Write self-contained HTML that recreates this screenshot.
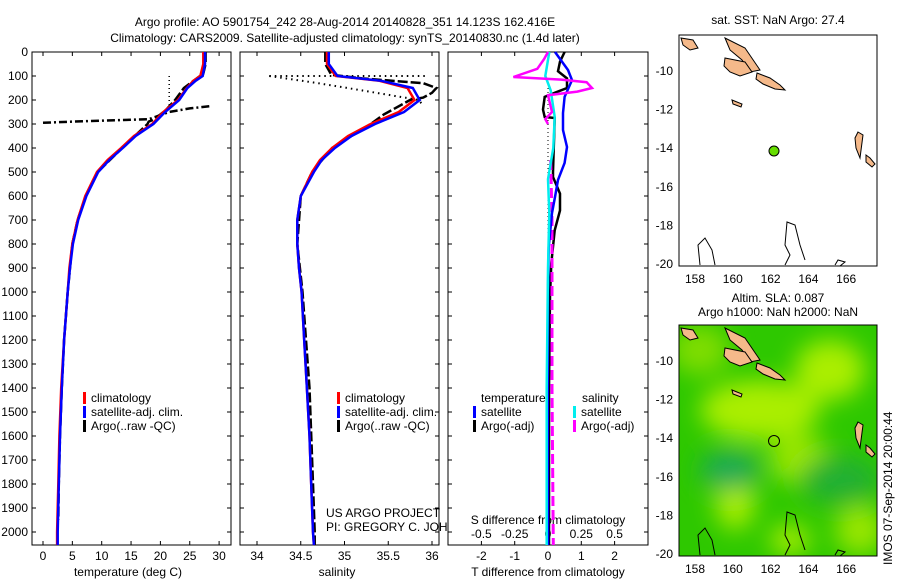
<!DOCTYPE html>
<html><head><meta charset="utf-8"><style>
body{margin:0;background:#fff;}
svg{display:block;font-family:"Liberation Sans",sans-serif;}
text{font-size:12px;fill:#000;}
</style></head><body>
<svg id="fig" width="900" height="580" viewBox="0 0 900 580">
<defs>
<filter id="blur" x="-50%" y="-50%" width="200%" height="200%"><feGaussianBlur stdDeviation="12"/></filter>
<clipPath id="clipMap2"><rect x="679" y="325" width="198" height="231"/></clipPath>
<clipPath id="clipMap1"><rect x="679" y="35" width="198" height="231"/></clipPath>
</defs>
<text x="345" y="26" text-anchor="middle">Argo profile: AO 5901754_242 28-Aug-2014 20140828_351 14.123S 162.416E</text>
<text x="345" y="42" text-anchor="middle">Climatology: CARS2009. Satellite-adjusted climatology: synTS_20140830.nc (1.4d later)</text>
<g id="plots"></g>
<g>
<text x="778" y="24" text-anchor="middle">sat. SST: NaN Argo: 27.4</text>
<rect x="679" y="35" width="198" height="231" fill="#fff" stroke="#000"/>
<g clip-path="url(#clipMap1)" id="map1land"></g>
<circle cx="774" cy="151" r="5" fill="#66dd00" stroke="#000"/>
</g>
<g>
<text x="778" y="302" text-anchor="middle">Altim. SLA: 0.087</text>
<text x="778" y="316" text-anchor="middle">Argo h1000: NaN h2000: NaN</text>
<g clip-path="url(#clipMap2)">
<rect x="679" y="325" width="198" height="231" fill="#2ec800"/>
<g filter="url(#blur)">
<ellipse cx="760" cy="410" rx="60" ry="30" fill="#aaee00"/>
<ellipse cx="830" cy="370" rx="35" ry="30" fill="#aaee00"/>
<ellipse cx="800" cy="460" rx="30" ry="25" fill="#99e600"/>
<ellipse cx="735" cy="500" rx="20" ry="30" fill="#aaee00"/>
<ellipse cx="730" cy="470" rx="30" ry="20" fill="#1faa55"/>
<ellipse cx="840" cy="480" rx="40" ry="25" fill="#22b033"/>
<ellipse cx="700" cy="350" rx="30" ry="25" fill="#7fdd00"/>
<ellipse cx="860" cy="530" rx="25" ry="25" fill="#99e600"/>
<ellipse cx="790" cy="540" rx="20" ry="15" fill="#aaee00"/>
</g>
<g id="map2land"></g>
</g>
<rect x="679" y="325" width="198" height="231" fill="none" stroke="#000"/>
<circle cx="774" cy="441" r="5.5" fill="none" stroke="#000"/>
</g>
<text transform="translate(892,565) rotate(-90)">IMOS 07-Sep-2014 20:00:44</text>
</svg>
<script>
const depthTicks=[0,100,200,300,400,500,600,700,800,900,1000,1100,1200,1300,1400,1500,1600,1700,1800,1900,2000];
const tempTicks=[0,5,10,15,20,25,30];
const climDepth=[0,50,100,120,150,200,250,300,350,400,450,500,600,700,800,900,1000,1200,1400,1600,1800,2000,2054];
const climTemp=[27.3,27.3,26.8,25.6,24.5,23.0,20.5,18.6,15.5,13.3,11.0,9.2,7.2,5.9,5.0,4.5,4.2,3.6,3.1,2.8,2.6,2.4,2.4];
const satTemp=[27.6,27.6,27.2,26.0,24.6,23.2,20.8,18.8,15.8,13.6,11.3,9.4,7.4,6.0,5.1,4.6,4.2,3.6,3.2,2.9,2.7,2.5,2.5];
const argoTempDepth=[0,50,90,150,200,240,280,290,300,400,500,600,700,800,1000,1200,1400,1600,1800,1950];
const argoTemp=[27.7,27.7,27.3,24.0,22.5,21.0,19.0,18.0,17.8,13.5,9.3,7.3,5.9,5.0,4.2,3.6,3.2,2.9,2.7,2.6];
const spikeDepth=[295,290,280,250,235,225];
const spikeTemp=[0,5,18,21.5,25,28.8];
const salTicks=[34,34.5,35,35.5,36];
const climSal=[34.80,34.80,34.90,35.40,35.72,35.80,35.62,35.30,35.04,34.86,34.72,34.63,34.50,34.46,34.46,34.48,34.51,34.54,34.57,34.60,34.62,34.64,34.65];
const satSal=[34.82,34.82,34.92,35.42,35.78,35.86,35.68,35.35,35.08,34.89,34.74,34.65,34.50,34.46,34.46,34.48,34.51,34.54,34.57,34.60,34.62,34.64,34.65];
const argoSalDepth=[0,50,95,110,130,150,170,190,200,260,300,400,500,600,800,1000,1400,1800,2000,2054];
const argoSal=[34.78,34.78,34.85,35.2,35.9,36.05,36.0,35.9,35.75,35.45,35.3,34.86,34.63,34.50,34.46,34.52,34.60,34.64,34.66,34.66];
const dotSalDepth=[100,130,160,200,225];
const dotSal=[34.14,34.7,35.2,35.85,35.9];
const dotSalHDepth=[100,100];
const dotSalH=[34.14,35.92];
const diffTTicks=[-2,-1,0,1,2];
const diffSTicks=[-0.5,-0.25,0,0.25,0.5];
const blueDepth=[0,75,117,187,254,325,396,462,533,604,671,812,1000,1400,2054];
const blueT=[0.21,0.6,0.72,0.5,0.45,0.45,0.57,0.5,0.3,0.21,0.12,0.02,0.0,-0.01,0.0];
const blackDepth=[0,40,80,110,150,170,187,240,271,275,500,521,590,660,743,880,1017,1400,2054];
const blackT=[0.5,0.36,0.3,0.57,0.57,0.2,-0.1,-0.15,-0.1,0.2,0.15,0.15,0.36,0.36,0.2,0.1,0.06,0.03,0.03];
const cyanDepth=[0,100,160,270,400,530,670,900,1400,2054];
const cyanS=[0.01,-0.02,0.02,0.05,0.04,0.0,0.01,0.0,-0.01,-0.01];
const magDepth=[0,30,70,104,115,126,150,165,180,250,280,300];
const magS=[0.0,-0.03,-0.08,-0.26,0.1,0.29,0.33,0.22,0.0,0.03,-0.02,0.0];
const magDashDepth=[450,700,1000,1400,2054];
const magDashS=[0.02,0.03,0.03,0.03,0.04];

const NS='http://www.w3.org/2000/svg';
const root=document.getElementById('plots');
function mk(tag,attrs,parent){const e=document.createElementNS(NS,tag);for(const k in attrs)e.setAttribute(k,attrs[k]);(parent||root).appendChild(e);return e;}
const Y0=52,YS=0.24,YB=545;
const yD=d=>Y0+d*YS;
function pathD(xs,ds,fx){return xs.map((v,i)=>(i?'L':'M')+fx(v).toFixed(1)+','+yD(ds[i]).toFixed(1)).join('');}
function panel(x0,x1,name){
  const g=mk('g',{});
  
  
  mk('rect',{x:x0,y:Y0,width:x1-x0,height:YB-Y0,fill:'#fff',stroke:'#000'},g);
  depthTicks.forEach(d=>{mk('line',{x1:x0,x2:x0+4,y1:yD(d),y2:yD(d),stroke:'#000'},g);mk('line',{x1:x1-4,x2:x1,y1:yD(d),y2:yD(d),stroke:'#000'},g);});
  return g;
}
const xT=t=>43+t*5.87;
const g1=panel(32,231,'temperature-panel');
depthTicks.forEach(d=>{const t=mk('text',{x:28,y:yD(d)+4,'text-anchor':'end'},g1);t.textContent=d;

});
tempTicks.forEach(v=>{mk('line',{x1:xT(v),x2:xT(v),y1:YB,y2:YB-4,stroke:'#000'},g1);mk('line',{x1:xT(v),x2:xT(v),y1:Y0,y2:Y0+4,stroke:'#000'},g1);
const t=mk('text',{x:xT(v),y:YB+15,'text-anchor':'middle'},g1);t.textContent=v;

});
let t=mk('text',{x:128,y:576,'text-anchor':'middle'},g1);t.textContent='temperature (deg C)';


let p=mk('path',{d:pathD(spikeTemp,spikeDepth,xT),fill:'none',stroke:'#000','stroke-width':2.5,'stroke-dasharray':'8 3 2 3'},g1);


p=mk('path',{d:'M'+xT(21.5)+','+yD(100)+'L'+xT(21.5)+','+yD(220),fill:'none',stroke:'#000','stroke-width':1.5,'stroke-dasharray':'1 3'},g1);


p=mk('path',{d:pathD(argoTemp,argoTempDepth,xT),fill:'none',stroke:'#000','stroke-width':2.5,'stroke-dasharray':'10 3'},g1);


p=mk('path',{d:pathD(climTemp,climDepth,xT),fill:'none',stroke:'#f00','stroke-width':2.5},g1);


p=mk('path',{d:pathD(satTemp,climDepth,xT),fill:'none',stroke:'#00f','stroke-width':2.5},g1);


function legend(g,x,y,items){items.forEach((it,i)=>{mk('rect',{x:x,y:y+i*14-10,width:3,height:12,fill:it[1]},g);const tt=mk('text',{x:x+8,y:y+i*14},g);tt.textContent=it[0];

});}
legend(g1,83,402,[['climatology','#f00'],['satellite-adj. clim.','#00f'],['Argo(..raw -QC)','#000']]);
const xS=s=>257+(s-34)*87.5;
const g2=panel(240,439,'salinity-panel');
salTicks.forEach(v=>{mk('line',{x1:xS(v),x2:xS(v),y1:YB,y2:YB-4,stroke:'#000'},g2);mk('line',{x1:xS(v),x2:xS(v),y1:Y0,y2:Y0+4,stroke:'#000'},g2);
const tt=mk('text',{x:xS(v),y:YB+15,'text-anchor':'middle'},g2);tt.textContent=v;

});
t=mk('text',{x:337,y:576,'text-anchor':'middle'},g2);t.textContent='salinity';


p=mk('path',{d:pathD(dotSal,dotSalDepth,xS),fill:'none',stroke:'#000','stroke-width':2,'stroke-dasharray':'1.5 4'},g2);


p=mk('path',{d:pathD(dotSalH,dotSalHDepth,xS),fill:'none',stroke:'#000','stroke-width':2,'stroke-dasharray':'1.5 4'},g2);


p=mk('path',{d:pathD(argoSal,argoSalDepth,xS),fill:'none',stroke:'#000','stroke-width':2.5,'stroke-dasharray':'10 3'},g2);


p=mk('path',{d:pathD(climSal,climDepth,xS),fill:'none',stroke:'#f00','stroke-width':2.5},g2);


p=mk('path',{d:pathD(satSal,climDepth,xS),fill:'none',stroke:'#00f','stroke-width':2.5},g2);


legend(g2,337,402,[['climatology','#f00'],['satellite-adj. clim.','#00f'],['Argo(..raw -QC)','#000']]);
t=mk('text',{x:326,y:517},g2);t.textContent='US ARGO PROJECT';


t=mk('text',{x:326,y:531},g2);t.textContent='PI: GREGORY C. JOHNSON';


const xDT=v=>548+v*33.3, xDS=v=>548+v*133.2;
const g3=panel(448,648,'difference-panel');
diffTTicks.forEach(v=>{mk('line',{x1:xDT(v),x2:xDT(v),y1:YB,y2:YB-4,stroke:'#000'},g3);mk('line',{x1:xDT(v),x2:xDT(v),y1:Y0,y2:Y0+4,stroke:'#000'},g3);
const tt=mk('text',{x:xDT(v),y:YB+15,'text-anchor':'middle'},g3);tt.textContent=v;

});
t=mk('text',{x:548,y:576,'text-anchor':'middle'},g3);t.textContent='T difference from climatology';


diffSTicks.forEach(v=>{const tt=mk('text',{x:xDS(v),y:538,'text-anchor':'middle'},g3);tt.textContent=v;

});
t=mk('text',{x:548,y:524,'text-anchor':'middle'},g3);t.textContent='S difference from climatology';


p=mk('path',{d:'M548,'+yD(150)+'L548,'+yD(2054),fill:'none',stroke:'#000','stroke-dasharray':'1 3'},g3);


p=mk('path',{d:pathD(blackT,blackDepth,xDT),fill:'none',stroke:'#000','stroke-width':2.5},g3);


p=mk('path',{d:pathD(magDashS,magDashDepth,xDS),fill:'none',stroke:'#f0f','stroke-width':3,'stroke-dasharray':'10 4'},g3);


p=mk('path',{d:pathD(blueT,blueDepth,xDT),fill:'none',stroke:'#00f','stroke-width':2.5},g3);


p=mk('path',{d:pathD(cyanS,cyanDepth,xDS),fill:'none',stroke:'#0ee','stroke-width':2.5},g3);


p=mk('path',{d:pathD(magS,magDepth,xDS),fill:'none',stroke:'#f0f','stroke-width':2.5},g3);


t=mk('text',{x:481,y:402},g3);t.textContent='temperature';


t=mk('text',{x:582,y:402},g3);t.textContent='salinity';


legend(g3,473,416,[['satellite','#00f'],['Argo(-adj)','#000']]);
legend(g3,573,416,[['satellite','#0ee'],['Argo(-adj)','#f0f']]);

const lonX=l=>695+(l-158)*18.9;
const lonTicks=[158,160,162,164,166];
function mapAxes(top,latTicks,lat0y,name){
  const g=mk('g',{});
  
  
  latTicks.forEach(la=>{const y=lat0y+(-10-la)*19.3;mk('line',{x1:679,x2:683,y1:y,y2:y,stroke:'#000'},g);mk('line',{x1:873,x2:877,y1:y,y2:y,stroke:'#000'},g);
  const tt=mk('text',{x:673,y:y+4,'text-anchor':'end'},g);tt.textContent=la;
  
  });
  lonTicks.forEach(l=>{mk('line',{x1:lonX(l),x2:lonX(l),y1:top,y2:top+4,stroke:'#000'},g);mk('line',{x1:lonX(l),x2:lonX(l),y1:top+231,y2:top+227,stroke:'#000'},g);
  const tt=mk('text',{x:lonX(l),y:top+248,'text-anchor':'middle'},g);tt.textContent=l;
  
  });
}
mapAxes(35,[-10,-12,-14,-16,-18,-20],71,'sst-map-axes');
mapAxes(325,[-10,-12,-14,-16,-18,-20],361,'sla-map-axes');
const islands=[
'M681,38 L693,40 L698,48 L690,50 L683,45Z',
'M725,38 L745,48 L760,70 L750,72 L742,60 L730,50Z',
'M725,58 L745,62 L752,72 L740,76 L730,72 L724,66Z',
'M757,73 L770,78 L780,85 L785,90 L775,89 L763,84 L756,79Z',
'M732,100 L742,104 L741,107 L733,104Z',
'M858,132 L863,135 L860,158 L856,148 L855,138Z',
'M866,155 L870,158 L875,164 L872,167 L866,162Z'];
const contours=[
'M700,265 L698,245 L705,238 L712,250 L715,265',
'M785,265 L790,255 L785,245 L787,222 L795,225 L800,245 L805,260',
'M835,265 L838,260 L845,262 L840,266'];
['map1land','map2land'].forEach((id,k)=>{const g=document.getElementById(id);const dy=k?290:0;
islands.forEach(d=>{const e=mk('path',{d:d,fill:'#f5b98a',stroke:'#000','stroke-width':1,transform:'translate(0,'+dy+')'},g);

});
contours.forEach(d=>{const e=mk('path',{d:d,fill:'none',stroke:'#000','stroke-width':1,transform:'translate(0,'+dy+')'},g);

});});
</script>
</body></html>
